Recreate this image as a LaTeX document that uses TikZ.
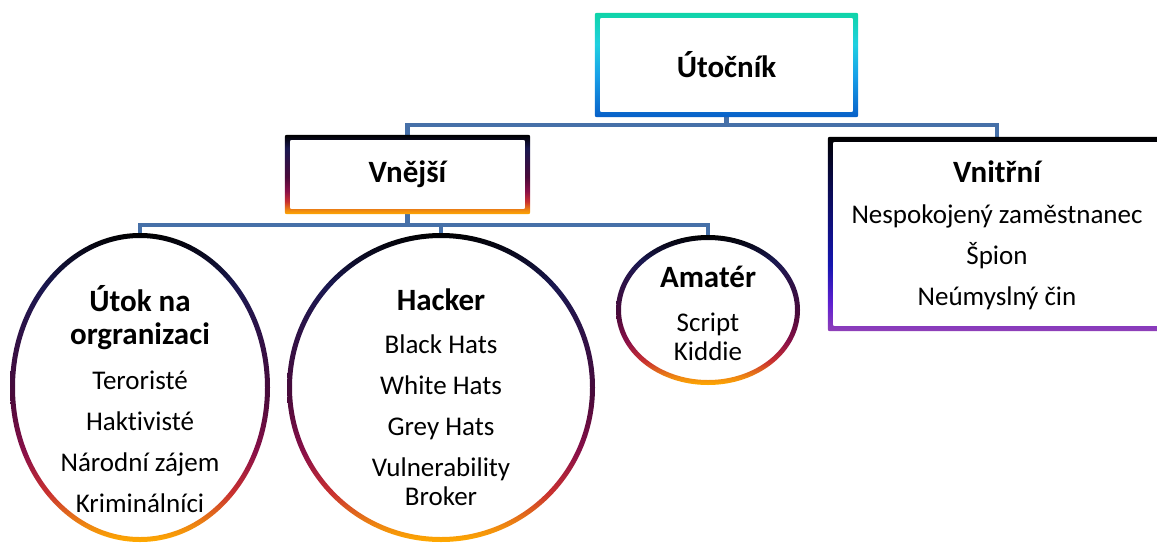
\documentclass[tikz,border=0pt]{standalone}
\usepackage{fontspec}
\setmainfont{Carlito}[Ligatures=NoCommon]
\usetikzlibrary{shapes.geometric}

\definecolor{linkblue}{HTML}{4670A8}
\definecolor{cTeal}{HTML}{0FD4A8}
\definecolor{cCyan}{HTML}{20D0E0}
\definecolor{cSky}{HTML}{18A0E8}
\definecolor{cBlue}{HTML}{0860C8}
\definecolor{wNavy}{HTML}{1A1850}
\definecolor{wPlum}{HTML}{4A0A3A}
\definecolor{wCrimson}{HTML}{8A1048}
\definecolor{wRed}{HTML}{C83030}
\definecolor{wOrange}{HTML}{F08A10}
\definecolor{wAmber}{HTML}{FFAA00}
\definecolor{pNavy}{HTML}{0A0A50}
\definecolor{pBlue}{HTML}{1515B0}
\definecolor{pViolet}{HTML}{6020D0}
\definecolor{pPurple}{HTML}{9040B8}

\pgfdeclareverticalshading{coolrim}{100bp}{color(0bp)=(cBlue); color(25bp)=(cBlue); color(45bp)=(cSky); color(60bp)=(cCyan); color(75bp)=(cTeal); color(100bp)=(cTeal)}
\pgfdeclareverticalshading{warmrim}{100bp}{color(0bp)=(wAmber); color(25bp)=(wAmber); color(27.5bp)=(wOrange); color(33bp)=(wRed); color(39.5bp)=(wCrimson); color(48.5bp)=(wPlum); color(66.5bp)=(wNavy); color(75bp)=(black); color(100bp)=(black)}
\pgfdeclareverticalshading{purprim}{100bp}{color(0bp)=(pPurple); color(25bp)=(pPurple); color(32bp)=(pViolet); color(42bp)=(pBlue); color(62bp)=(pNavy); color(75bp)=(black); color(100bp)=(black)}

\begin{document}
\begin{tikzpicture}[x=1pt,y=-1pt,
  box/.style={rectangle,inner sep=0pt,font=\fontsize{31}{36}\selectfont\bfseries},
  ring/.style={ellipse,inner sep=0pt},
  head/.style={align=center,font=\fontsize{31}{33}\selectfont\bfseries},
  item/.style={align=center,font=\fontsize{27}{29}\selectfont},
  link/.style={draw=linkblue,line width=4.5pt}]
\clip (0,0) rectangle (1157,544);

% Boxes
\node[box,minimum width=263pt,minimum height=104pt] (utocnik) at (726.5,65) {Útočník};
\node[box,minimum width=245pt,minimum height=79pt] (vnejsi) at (407.5,174.5) {Vnější};
\node[box,minimum width=338pt,minimum height=194pt] (vnitrni) at (997,234) {};

% Ovals
\node[ring,minimum width=260pt,minimum height=309pt] (utok) at (140,387.5) {};
\node[ring,minimum width=308pt,minimum height=309pt] (hacker) at (441,387.5) {};
\node[ring,minimum width=184pt,minimum height=150pt] (amater) at (708,310) {};

% Texts
\node[head] (vnitrnihead) at (997,172) {Vnitřní};
\node[item] (vnitrnilist) at (997,257) {Nespokojený zaměstnanec\\[12pt]Špion\\[12pt]Neúmyslný čin};
\node[head] (utokhead) at (140,318) {Útok na\\orgranizaci};
\node[item] (utoklist) at (140,442) {Teroristé\\[12pt]Haktivisté\\[12pt]Národní zájem\\[12pt]Kriminálníci};
\node[head] (hackerhead) at (441,300) {Hacker};
\node[item] (hackerlist) at (441,420) {Black Hats\\[12pt]White Hats\\[12pt]Grey Hats\\[12pt]Vulnerability\\Broker};
\node[head] (amaterhead) at (708,277) {Amatér};
\node[item] (amaterlist) at (708,337) {Script\\Kiddie};

% Connectors
\draw[link] (utocnik.south) -- ++(0,8) -| (vnejsi.north);
\draw[link] (utocnik.south) -- ++(0,8) -| (vnitrni.north);
\draw[link] (vnejsi.south) -- ++(0,11) -| (utok.north);
\draw[link] (vnejsi.south) -- ++(0,11) -| (hacker.north);
\draw[link] (vnejsi.south) -- ++(0,11) -| (amater.north);

% Gradient rims
\shade[shading=coolrim,even odd rule,rounded corners=2pt] (utocnik.south west) rectangle (utocnik.north east)
  ([shift={(5pt,5pt)}]utocnik.south west) rectangle ([shift={(-5pt,-5pt)}]utocnik.north east);
\shade[shading=warmrim,even odd rule,rounded corners=2pt] (vnejsi.south west) rectangle (vnejsi.north east)
  ([shift={(5pt,5pt)}]vnejsi.south west) rectangle ([shift={(-5pt,-5pt)}]vnejsi.north east);
\shade[shading=purprim,even odd rule,rounded corners=2pt] (vnitrni.south west) rectangle (vnitrni.north east)
  ([shift={(5pt,5pt)}]vnitrni.south west) rectangle ([shift={(-5pt,-5pt)}]vnitrni.north east);
\shade[shading=warmrim,even odd rule] (utok.center) ellipse [x radius=130pt,y radius=154.5pt]
  (utok.center) ellipse [x radius=125pt,y radius=149.5pt];
\shade[shading=warmrim,even odd rule] (hacker.center) ellipse [x radius=154pt,y radius=154.5pt]
  (hacker.center) ellipse [x radius=149pt,y radius=149.5pt];
\shade[shading=warmrim,even odd rule] (amater.center) ellipse [x radius=92pt,y radius=75pt]
  (amater.center) ellipse [x radius=87pt,y radius=70pt];
\end{tikzpicture}
\end{document}
